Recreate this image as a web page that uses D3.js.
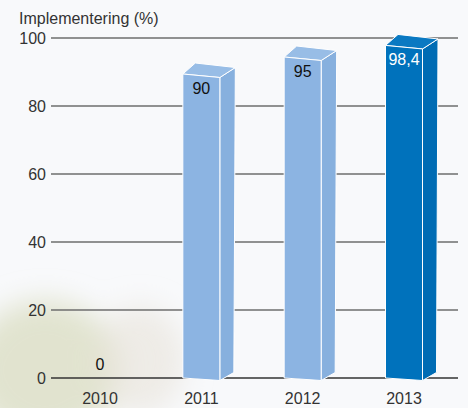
<!DOCTYPE html>
<html>
<head>
<meta charset="utf-8">
<script src="https://cdn.jsdelivr.net/npm/d3@7"></script>
<style>
  html, body { margin: 0; padding: 0; background: #f8f9fb; }
  svg { display: block; font-family: "Liberation Sans", Arial, sans-serif; }
</style>
</head>
<body>
<svg width="468" height="408"></svg>
<script>
// chart data
var years = ["2010", "2011", "2012", "2013"];
var values = [0, 90, 95, 98.4];
var valueLabels = ["0", "90", "95", "98,4"];
var ticks = [0, 20, 40, 60, 80, 100];
var title = "Implementering (%)";

var svg = d3.select("svg");

var x = d3.scalePoint().domain(years).range([100, 404]);
var y = d3.scaleLinear().domain([0, 100]).range([378, 38]);

// faint tree in the lower left corner of the background
var defs = svg.append("defs");
defs.append("filter").attr("id", "soft")
    .attr("x", "-50%").attr("y", "-50%").attr("width", "200%").attr("height", "200%")
    .append("feGaussianBlur").attr("stdDeviation", 14);
var bg = svg.append("g").attr("filter", "url(#soft)");
bg.append("ellipse")
    .attr("cx", 45).attr("cy", 370).attr("rx", 75).attr("ry", 70)
    .attr("fill", "#d9dcc0").attr("opacity", 0.75);
bg.append("ellipse")
    .attr("cx", 140).attr("cy", 360).attr("rx", 45).attr("ry", 55)
    .attr("fill", "#e8e2d8").attr("opacity", 0.6);

// title
svg.append("text")
    .attr("x", 19).attr("y", 24)
    .attr("font-size", "16px")
    .attr("fill", "#333")
    .text(title);

// grid lines + tick labels
var grid = svg.append("g");
grid.selectAll("line")
    .data(ticks)
    .enter().append("line")
    .attr("x1", 51).attr("x2", 458)
    .attr("y1", function(d) { return y(d); })
    .attr("y2", function(d) { return y(d); })
    .attr("stroke", function(d) { return d === 0 ? "#333" : "#6e6e6e"; })
    .attr("stroke-width", function(d) { return d === 0 ? 1.6 : 1.3; });

grid.selectAll("text")
    .data(ticks)
    .enter().append("text")
    .attr("x", 46)
    .attr("y", function(d) { return y(d); })
    .attr("dy", "0.36em")
    .attr("text-anchor", "end")
    .attr("font-size", "16px")
    .attr("fill", "#333")
    .text(function(d) { return d; });

// category labels
svg.append("g").selectAll("text")
    .data(years)
    .enter().append("text")
    .attr("x", function(d) { return x(d); })
    .attr("y", 404)
    .attr("text-anchor", "middle")
    .attr("font-size", "16px")
    .attr("fill", "#333")
    .text(function(d) { return d; });

// 3d bars
var half = 18.5;
var bars = years.map(function(d, i) {
    return { year: d, value: values[i], label: valueLabels[i], last: i === years.length - 1 };
});

function pts(a) {
    return a.map(function(p) { return p.join(","); }).join(" ");
}

var bar = svg.append("g").selectAll("g")
    .data(bars.filter(function(d) { return d.value > 0; }))
    .enter().append("g");

bar.each(function(d) {
    var g = d3.select(this),
        cx = x(d.year),
        xl = cx - half,
        xr = cx + half,
        tl = y(d.value) + 2,
        tr = tl + 3.5,
        bl = y(0),
        br = y(0) + 2.5;
    var front = d.last ? "#0072bc" : "#8cb4e2",
        top = d.last ? "#0a79c2" : "#98bde6",
        side = d.last ? "#006cb4" : "#87b0de";

    g.append("polygon")
        .attr("points", pts([[xr, tr], [xr + 15.5, tr - 10], [xr + 14, br - 8], [xr, br]]))
        .attr("fill", side).attr("stroke", "#fff").attr("stroke-width", 1);
    g.append("polygon")
        .attr("points", pts([[xl, tl], [xl + 12.5, tl - 11], [xr + 15.5, tr - 10], [xr, tr]]))
        .attr("fill", top).attr("stroke", "#fff").attr("stroke-width", 1);
    g.append("polygon")
        .attr("points", pts([[xl, tl], [xr, tr], [xr, br], [xl, bl]]))
        .attr("fill", front).attr("stroke", "#fff").attr("stroke-width", 1);
});

// value labels
svg.append("g").selectAll("text")
    .data(bars)
    .enter().append("text")
    .attr("x", function(d) { return x(d.year); })
    .attr("y", function(d) { return d.value > 0 ? y(d.value) + 22 : y(0) - 8; })
    .attr("text-anchor", "middle")
    .attr("font-size", "16px")
    .attr("fill", function(d) { return d.last ? "#fff" : "#111"; })
    .text(function(d) { return d.label; });
</script>
</body>
</html>
